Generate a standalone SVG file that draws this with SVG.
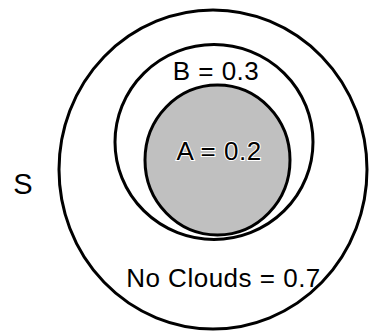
<svg xmlns="http://www.w3.org/2000/svg" width="369" height="331" viewBox="0 0 369 331">
<style>
.ring{fill:none;stroke:#000;stroke-width:3}
.lbl{font-family:"Liberation Sans",Arial,sans-serif;font-size:26px;fill:#000;text-anchor:middle;letter-spacing:0.5px}
</style>
<rect width="369" height="331" fill="#fff"/>
<g id="S">
<ellipse class="ring" cx="213" cy="169.5" rx="154" ry="159.5"/>
<text class="lbl" x="23" y="194" style="font-size:29px;letter-spacing:0">S</text>
<text class="lbl" x="223.5" y="287">No Clouds = 0.7</text>
</g>
<g id="B">
<ellipse class="ring" cx="214" cy="142" rx="99" ry="97.5"/>
<text class="lbl" x="216" y="80">B = 0.3</text>
</g>
<g id="A">
<ellipse class="ring" cx="217.5" cy="160" rx="72.5" ry="75" style="fill:#c0c0c0"/>
<text class="lbl" x="219" y="160" stroke="#fff" stroke-width="2" paint-order="stroke">A = 0.2</text>
</g>
<g id="connectors"/>
</svg>
